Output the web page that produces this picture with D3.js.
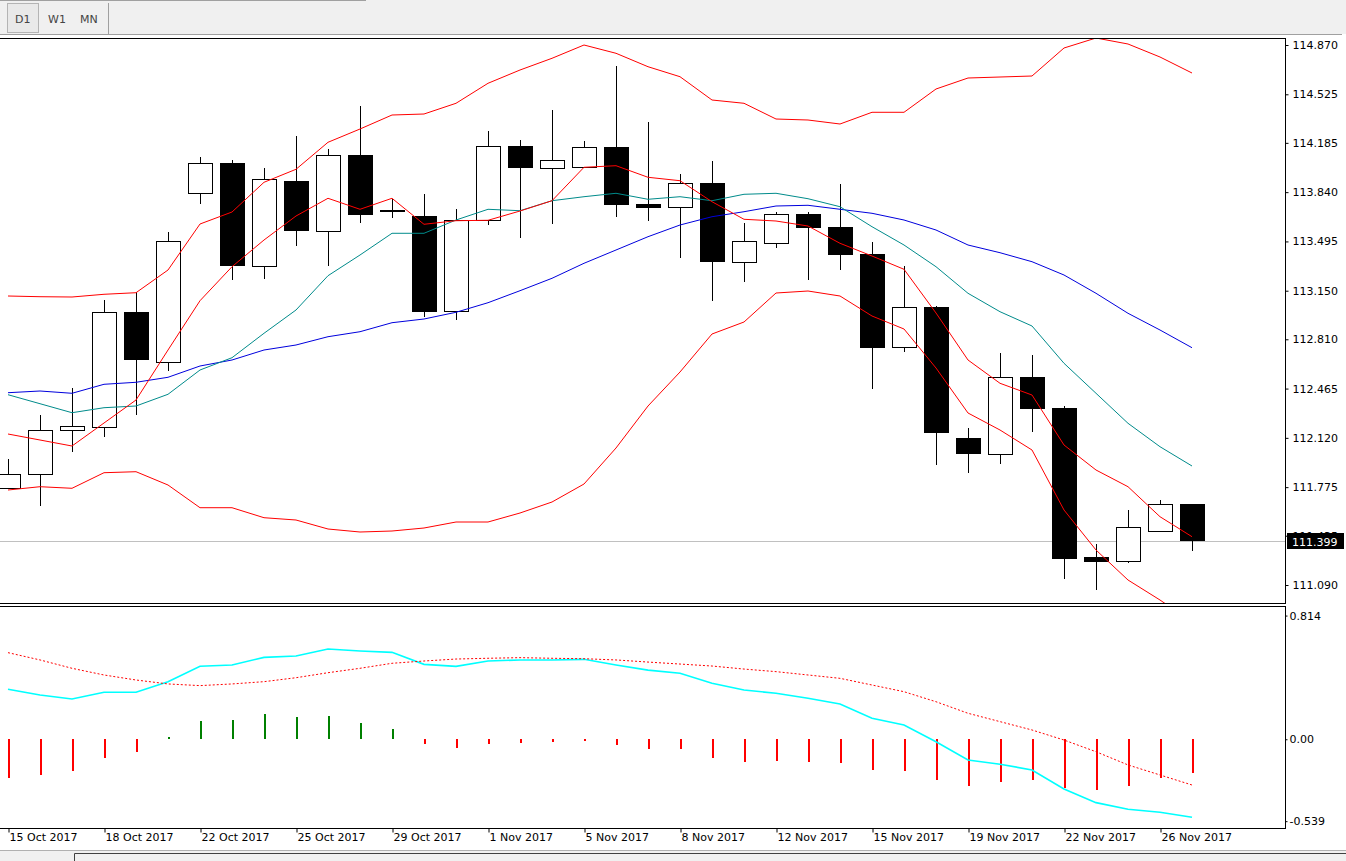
<!DOCTYPE html>
<html>
<head>
<meta charset="utf-8">
<title>USDJPY Daily</title>
<script src="https://d3js.org/d3.v7.min.js"></script>
<style>
  body { margin: 0; background: #fff; overflow: hidden; }
  svg { display: block; font-family: "DejaVu Sans", sans-serif; font-size: 11px; }
</style>
</head>
<body>
<script>
// x axis
var dateLabels = ["15 Oct 2017", "18 Oct 2017", "22 Oct 2017", "25 Oct 2017", "29 Oct 2017", "1 Nov 2017",
                  "5 Nov 2017", "8 Nov 2017", "12 Nov 2017", "15 Nov 2017", "19 Nov 2017", "22 Nov 2017", "26 Nov 2017"];
var dateTickIdx = [0, 3, 6, 9, 12, 15, 18, 21, 24, 27, 30, 33, 36];

// price axis
var priceTicks = ["114.870", "114.525", "114.185", "113.840", "113.495", "113.150", "112.810",
                  "112.465", "112.120", "111.775", "111.435", "111.090"];
var lowerTicks = ["0.814", "0.00", "-0.539"];

// daily candles
var open  = [111.769, 111.865, 112.173, 112.194, 112.999, 112.649, 113.832, 114.044, 113.321, 113.918,
             113.566, 114.100, 113.715, 113.671, 113.006, 113.643, 114.161, 114.007, 114.018, 114.154,
             113.757, 113.734, 113.902, 113.349, 113.482, 113.687, 113.596, 113.407, 112.754, 113.036,
             112.119, 112.009, 112.544, 112.329, 111.284, 111.256, 111.466, 111.657];
var high  = [111.972, 112.280, 112.471, 113.085, 113.139, 113.561, 114.086, 114.063, 114.009, 114.233,
             114.142, 114.443, 113.794, 113.827, 113.722, 114.268, 114.205, 114.415, 114.198, 114.723,
             114.331, 113.967, 114.058, 113.624, 113.699, 113.699, 113.897, 113.491, 113.323, 113.043,
             112.189, 112.714, 112.700, 112.343, 111.377, 111.615, 111.685, 111.657];
var low   = [111.760, 111.645, 112.023, 112.124, 112.280, 112.590, 113.759, 113.227, 113.234, 113.465,
             113.325, 113.626, 113.661, 112.968, 112.943, 113.612, 113.521, 113.615, 114.018, 113.668,
             113.640, 113.381, 113.080, 113.209, 113.451, 113.227, 113.297, 112.464, 112.723, 111.932,
             111.876, 111.939, 112.163, 111.134, 111.057, 111.246, 111.466, 111.330];
var close = [111.865, 112.173, 112.201, 112.999, 112.667, 113.496, 114.042, 113.325, 113.930, 113.570,
             114.098, 113.682, 113.701, 113.003, 113.643, 114.161, 114.007, 114.063, 114.154, 113.752,
             113.731, 113.902, 113.349, 113.496, 113.685, 113.591, 113.402, 112.751, 113.036, 112.156,
             112.009, 112.544, 112.324, 111.274, 111.253, 111.494, 111.655, 111.399];

// indicators on price
var maFast  = [112.147, 112.105, 112.063, 112.224, 112.385, 112.735, 113.080, 113.318, 113.505, 113.673,
               113.797, 113.720, 113.797, 113.615, 113.640, 113.643, 113.708, 113.780, 114.014, 114.025,
               113.944, 113.920, 113.773, 113.650, 113.638, 113.603, 113.482, 113.393, 113.300, 112.994,
               112.665, 112.502, 112.420, 112.070, 111.895, 111.778, 111.568, 111.428];
var maMid   = [112.422, 112.359, 112.296, 112.331, 112.343, 112.425, 112.595, 112.681, 112.852, 113.015,
               113.255, 113.400, 113.552, 113.552, 113.645, 113.720, 113.710, 113.780, 113.808, 113.832,
               113.790, 113.808, 113.780, 113.825, 113.832, 113.794, 113.738, 113.598, 113.470, 113.318,
               113.132, 113.003, 112.903, 112.642, 112.432, 112.222, 112.058, 111.923];
var maSlow  = [112.436, 112.448, 112.432, 112.495, 112.509, 112.544, 112.623, 112.665, 112.735, 112.770,
               112.828, 112.863, 112.926, 112.952, 112.999, 113.066, 113.150, 113.237, 113.342, 113.435,
               113.528, 113.610, 113.668, 113.703, 113.743, 113.748, 113.720, 113.692, 113.645, 113.575,
               113.470, 113.416, 113.353, 113.260, 113.132, 112.992, 112.875, 112.751];
var bbUpper = [113.113, 113.108, 113.106, 113.125, 113.136, 113.295, 113.617, 113.701, 113.909, 114.000,
               114.189, 114.282, 114.380, 114.387, 114.462, 114.602, 114.695, 114.777, 114.870, 114.812,
               114.718, 114.648, 114.485, 114.462, 114.352, 114.345, 114.317, 114.399, 114.399, 114.562,
               114.639, 114.646, 114.653, 114.849, 114.919, 114.877, 114.786, 114.674];
var bbLower = [111.755, 111.778, 111.767, 111.876, 111.883, 111.790, 111.631, 111.631, 111.561, 111.545,
               111.482, 111.461, 111.468, 111.489, 111.531, 111.531, 111.594, 111.671, 111.797, 112.049,
               112.343, 112.581, 112.847, 112.931, 113.134, 113.148, 113.113, 112.973, 112.882, 112.609,
               112.294, 112.175, 112.035, 111.615, 111.335, 111.125, 110.985, 110.831];

// lower window
var oscMain   = [0.329, 0.291, 0.265, 0.309, 0.309, 0.379, 0.480, 0.489, 0.539, 0.548,
                 0.594, 0.581, 0.572, 0.493, 0.480, 0.515, 0.522, 0.522, 0.526, 0.489,
                 0.455, 0.434, 0.368, 0.324, 0.303, 0.270, 0.232, 0.138, 0.094, -0.016,
                 -0.136, -0.164, -0.202, -0.327, -0.417, -0.461, -0.480, -0.513];
var oscSignal = [0.570, 0.522, 0.467, 0.423, 0.390, 0.364, 0.353, 0.364, 0.379, 0.405,
                 0.438, 0.467, 0.500, 0.515, 0.528, 0.533, 0.537, 0.533, 0.530, 0.522,
                 0.508, 0.495, 0.482, 0.462, 0.445, 0.423, 0.401, 0.357, 0.313, 0.247,
                 0.171, 0.116, 0.061, -0.005, -0.082, -0.169, -0.235, -0.301];
var oscHist   = [-0.254, -0.235, -0.208, -0.123, -0.083, 0.013, 0.118, 0.125, 0.164, 0.145,
                 0.151, 0.105, 0.066, -0.033, -0.057, -0.033, -0.024, -0.018, -0.011, -0.038,
                 -0.066, -0.066, -0.123, -0.151, -0.145, -0.151, -0.158, -0.202, -0.208, -0.268,
                 -0.307, -0.283, -0.268, -0.320, -0.336, -0.307, -0.255, -0.222];

var W = 1346, H = 861;
var axisX = 1285;
var mainTop = 38, mainBottom = 603, lowTop = 606, lowBottom = 828;

var svg = d3.select("body").append("svg").attr("width", W).attr("height", H);

var x = d3.scaleLinear().domain([0, 37]).range([8, 1192]);
var y = d3.scaleLinear().domain([110.964, 114.919]).range([mainBottom, mainTop]);
var y2 = d3.scaleLinear().domain([-0.584, 0.877]).range([lowBottom, lowTop]);

// toolbar on top
svg.append("rect").attr("x", 0).attr("y", 0).attr("width", W).attr("height", 34).attr("fill", "#f0f0f0");
svg.append("line").attr("x1", 0).attr("x2", 366).attr("y1", 0.5).attr("y2", 0.5).attr("stroke", "#a0a0a0");
svg.append("line").attr("x1", 0).attr("x2", 1342).attr("y1", 34.5).attr("y2", 34.5).attr("stroke", "#a0a0a0");
svg.append("rect").attr("x", 7.5).attr("y", 3.5).attr("width", 31).attr("height", 29)
  .attr("fill", "#e9e9e9").attr("stroke", "#b4b4b4");
svg.append("line").attr("x1", 108.5).attr("x2", 108.5).attr("y1", 3).attr("y2", 34).attr("stroke", "#a0a0a0");
var tabs = [["D1", 15], ["W1", 48], ["MN", 80]];
svg.selectAll(".tab").data(tabs).enter().append("text")
  .attr("class", "tab")
  .attr("x", function(d){ return d[1]; })
  .attr("y", 23)
  .attr("fill", "#444")
  .text(function(d){ return d[0]; });

// bottom strip
svg.append("rect").attr("x", 0).attr("y", 850).attr("width", W).attr("height", 11).attr("fill", "#f0f0f0");
svg.append("line").attr("x1", 0).attr("x2", W).attr("y1", 850.5).attr("y2", 850.5).attr("stroke", "#b0b0b0");
svg.append("path").attr("d", "M74.5,861V853.5H" + W).attr("fill", "none").attr("stroke", "#404040");

// clip regions
var defs = svg.append("defs");
defs.append("clipPath").attr("id", "clipMain").append("rect")
  .attr("x", 0).attr("y", mainTop).attr("width", axisX).attr("height", mainBottom - mainTop);
defs.append("clipPath").attr("id", "clipLow").append("rect")
  .attr("x", 0).attr("y", lowTop).attr("width", axisX).attr("height", lowBottom - lowTop);

var gMain = svg.append("g").attr("clip-path", "url(#clipMain)");
var gLow = svg.append("g").attr("clip-path", "url(#clipLow)");

// bid line
var bidY = Math.round(y(close[close.length - 1])) + 0.5;
gMain.append("line").attr("x1", 0).attr("x2", axisX).attr("y1", bidY).attr("y2", bidY).attr("stroke", "#c0c0c0");

// candles
var idx = d3.range(open.length);
var candles = gMain.selectAll(".candle").data(idx).enter().append("g")
  .attr("class", "candle")
  .attr("shape-rendering", "crispEdges");

candles.append("line")
  .attr("x1", function(i){ return Math.round(x(i)) + 0.5; })
  .attr("x2", function(i){ return Math.round(x(i)) + 0.5; })
  .attr("y1", function(i){ return Math.round(y(high[i])); })
  .attr("y2", function(i){ return Math.round(y(low[i])); })
  .attr("stroke", "#000");

candles.append("rect")
  .attr("x", function(i){ return close[i] >= open[i] ? Math.round(x(i)) - 11.5 : Math.round(x(i)) - 12; })
  .attr("y", function(i){
    var t = Math.round(y(Math.max(open[i], close[i])));
    return close[i] >= open[i] ? t + 0.5 : t;
  })
  .attr("width", function(i){ return close[i] >= open[i] ? 24 : 25; })
  .attr("height", function(i){
    var h = Math.round(y(Math.min(open[i], close[i]))) - Math.round(y(Math.max(open[i], close[i])));
    return Math.max(h, 2);
  })
  .attr("fill", function(i){ return close[i] >= open[i] ? "#fff" : "#000"; })
  .attr("stroke", function(i){ return close[i] >= open[i] ? "#000" : "none"; });

// indicator lines
var priceLine = d3.line().x(function(d, i){ return x(i); }).y(function(d){ return y(d); });
var priceSeries = [
  [bbUpper, "#ff0000"],
  [bbLower, "#ff0000"],
  [maSlow, "#0000dd"],
  [maMid, "#008b8b"],
  [maFast, "#ff0000"]
];
priceSeries.forEach(function(s){
  gMain.append("path")
    .attr("d", priceLine(s[0]))
    .attr("fill", "none")
    .attr("stroke", s[1])
    .attr("stroke-width", 1);
});

// lower window: histogram, main and signal lines
gLow.selectAll(".bar").data(oscHist).enter().append("line")
  .attr("class", "bar")
  .attr("shape-rendering", "crispEdges")
  .attr("x1", function(d, i){ return Math.round(x(i)) + 1; })
  .attr("x2", function(d, i){ return Math.round(x(i)) + 1; })
  .attr("y1", Math.round(y2(0)))
  .attr("y2", function(d){ return Math.round(y2(d)); })
  .attr("stroke", function(d){ return d > 0 ? "#008000" : "#ff0000"; })
  .attr("stroke-width", 2);

var oscLine = d3.line().x(function(d, i){ return x(i); }).y(function(d){ return y2(d); });
gLow.append("path").attr("d", oscLine(oscMain))
  .attr("fill", "none").attr("stroke", "#00ffff").attr("stroke-width", 1.6);
gLow.append("path").attr("d", oscLine(oscSignal))
  .attr("fill", "none").attr("stroke", "#ff0000").attr("stroke-width", 1)
  .attr("stroke-dasharray", "2,2");

// frames
var frame = svg.append("g").attr("fill", "none").attr("stroke", "#000").attr("shape-rendering", "crispEdges");
frame.append("path").attr("d", "M0," + (mainTop + 0.5) + "H" + (axisX + 0.5) + "V" + (mainBottom + 0.5) + "H0");
frame.append("path").attr("d", "M0," + (lowTop + 0.5) + "H" + (axisX + 0.5) + "V" + (lowBottom + 0.5) + "H0");

// price axis
var yAxis = d3.axisRight(y)
  .tickValues(priceTicks.map(Number))
  .tickFormat(function(d, i){ return priceTicks[i]; })
  .tickSize(3).tickPadding(4).tickSizeOuter(0);
var gy = svg.append("g").attr("transform", "translate(" + (axisX + 0.5) + ",0)").call(yAxis);
gy.select(".domain").remove();
gy.selectAll("text").attr("fill", "#000").style("font-size", "11px").style("font-family", "DejaVu Sans");

// current price label
var bidBox = svg.append("g");
bidBox.append("rect").attr("x", axisX + 2).attr("y", bidY - 8.5).attr("width", 57).attr("height", 16).attr("fill", "#000");
bidBox.append("text").attr("x", axisX + 7).attr("y", bidY + 4).attr("fill", "#fff")
  .text(close[close.length - 1].toFixed(3));

// lower axis
var y2Axis = d3.axisRight(y2)
  .tickValues(lowerTicks.map(Number))
  .tickFormat(function(d, i){ return lowerTicks[i]; })
  .tickSize(2).tickPadding(2).tickSizeOuter(0);
var gy2 = svg.append("g").attr("transform", "translate(" + (axisX + 0.5) + ",0)").call(y2Axis);
gy2.select(".domain").remove();
gy2.selectAll("text").attr("fill", "#000").style("font-size", "11px").style("font-family", "DejaVu Sans");

// date axis
var xAxis = d3.axisBottom(x)
  .tickValues(dateTickIdx)
  .tickFormat(function(d, i){ return dateLabels[i]; })
  .tickSize(4).tickSizeOuter(0);
var gx = svg.append("g").attr("transform", "translate(0," + (lowBottom + 0.5) + ")").call(xAxis);
gx.select(".domain").remove();
gx.selectAll(".tick line").attr("transform", "translate(0.5,0)");
gx.selectAll("text")
  .attr("text-anchor", "start")
  .attr("x", 1).attr("y", 5).attr("dy", "0.71em")
  .attr("fill", "#000").style("font-size", "11px").style("font-family", "DejaVu Sans");
</script>
</body>
</html>
